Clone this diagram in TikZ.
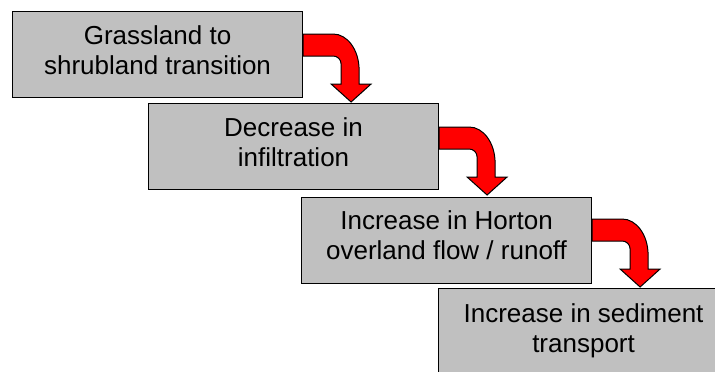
\documentclass[tikz,border=0pt]{standalone}
\usepackage{fontspec}
\setmainfont{Liberation Sans}
\usetikzlibrary{calc}
\definecolor{boxgray}{HTML}{C0C0C0}
\definecolor{arrred}{HTML}{FF0000}
\tikzset{
  stagebox/.style={draw=black, line width=1.1pt, fill=boxgray, minimum width=290pt, minimum height=86pt, anchor=north west, inner sep=0pt},
  stagetext/.style={font=\fontsize{26}{30}\selectfont, align=center, anchor=base, inner sep=0pt},
  bentarrow/.pic={
    \draw[fill=arrred, draw=black, line width=1pt, line join=miter]
      (0,0) -- (30,0) .. controls (44.4,0) and (56,16.1) .. (56,36) -- (56,50)
      -- (68,50) -- (48,68) -- (28,50) -- (38,50) -- (38,30)
      .. controls (38,25.6) and (34.4,22) .. (30,22) -- (0,22) -- cycle;
  }
}
\begin{document}
\begin{tikzpicture}[x=1pt, y=-1pt]
  \clip (0,0) rectangle (715,372);
  \fill[white] (0,0) rectangle (715,372);
  \node[stagebox] (b1) at (12,11) {};
  \node[stagebox] (b2) at (148,103) {};
  \node[stagebox] (b3) at (301,197) {};
  \node[stagebox] (b4) at (438,288) {};
  \node[stagetext] (t1) at ($(b1.north)+(0,63)$) {Grassland to\\shrubland transition};
  \node[stagetext] (t2) at ($(b2.north)+(0,63)$) {Decrease in\\infiltration};
  \node[stagetext] (t3) at ($(b3.north)+(0,62)$) {Increase in Horton\\overland flow / runoff};
  \node[stagetext] (t4) at ($(b4.north)+(0,64)$) {Increase in sediment\\transport};
  \pic at ($(b1.north east)+(0,23)$) {bentarrow};
  \pic at ($(b2.north east)+(0,24)$) {bentarrow};
  \pic at ($(b3.north east)+(0,22)$) {bentarrow};
\end{tikzpicture}
\end{document}
